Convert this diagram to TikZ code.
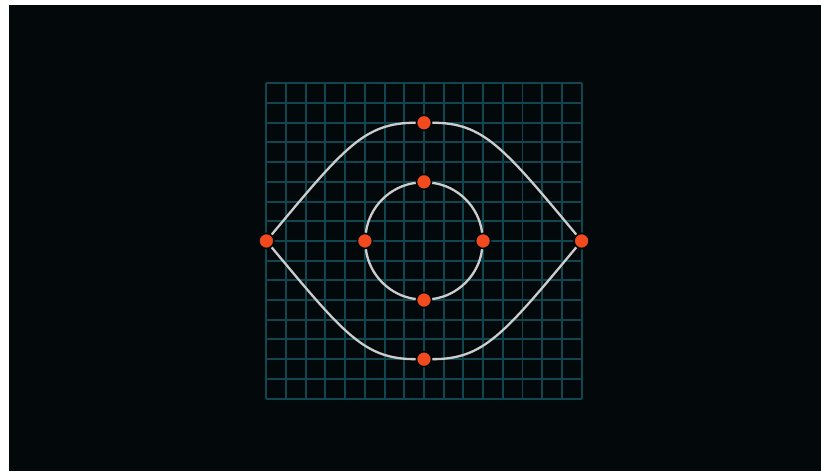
\documentclass[tikz,border=0pt]{standalone}
\usetikzlibrary{positioning}
\definecolor{bgdark}{HTML}{03080A}
\definecolor{gridteal}{HTML}{114550}
\definecolor{curvegray}{HTML}{CCCCCC}
\definecolor{dotred}{HTML}{F04A1E}

\begin{document}
\begin{tikzpicture}[
  x=0.6cm, y=0.6cm,
  gridline/.style={draw=gridteal, line width=1.7pt},
  curve/.style={draw=curvegray, line width=2pt},
  ring/.style={curve, looseness=0.94},
  dot/.style={circle, fill=dotred, draw=bgdark, line width=1.4pt, inner sep=0pt, minimum size=4.6mm}
]
\useasboundingbox (-21.52,-11.68) rectangle (20.15,12.23);
\fill[white] (-21.52,-11.68) rectangle (20.15,12.23);
\fill[bgdark] (-21.07,-11.68) rectangle (20.15,11.98);

\draw[gridline, step=0.6cm] (-8,-8) grid (8,8);

% outer shape
\node[dot] (l) at (-8,0) {};
\node[dot] (r) at (8,0)  {};
\node[dot] (t) at (0,6)  {};
\node[dot] (b) at (0,-6) {};

% inner ring
\node[dot] (it) at (0,3)  {};
\node[dot] (ib) at (0,-3) {};
\node[dot] (il) at (-3,0) {};
\node[dot] (ir) at (3,0)  {};

\draw[curve] (l) .. controls (-4,4.8) and (-3,6) .. (t);
\draw[curve] (t) .. controls (3,6) and (4,4.8) .. (r);
\draw[curve] (r) .. controls (4,-4.8) and (3,-6) .. (b);
\draw[curve] (b) .. controls (-3,-6) and (-4,-4.8) .. (l);

\draw[ring] (il) to[out=83,in=187] (it);
\draw[ring] (it) to[out=-7,in=97] (ir);
\draw[ring] (ir) to[out=-97,in=7] (ib);
\draw[ring] (ib) to[out=173,in=-83] (il);
\end{tikzpicture}
\end{document}
